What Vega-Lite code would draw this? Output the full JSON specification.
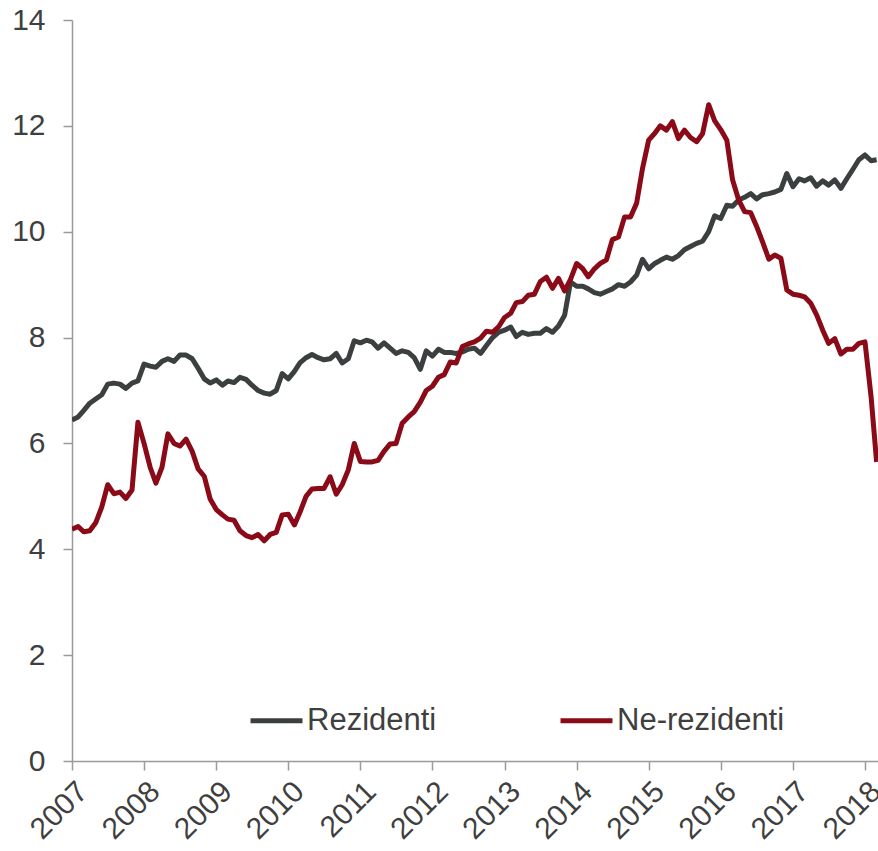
{
  "$schema": "https://vega.github.io/schema/vega-lite/v6.json",
  "autosize": {"type": "none"},
  "padding": {"left": 72, "top": 20, "right": 0, "bottom": 90},
  "width": 806,
  "height": 741,
  "background": "white",
  "config": {"view": {"stroke": null}, "font": "Liberation Sans"},
  "data": {"values": [
    {"d":"2007-01-01","Rezidenti":6.44,"Ne-rezidenti":4.38},
    {"d":"2007-02-01","Rezidenti":6.50,"Ne-rezidenti":4.43},
    {"d":"2007-03-01","Rezidenti":6.62,"Ne-rezidenti":4.33},
    {"d":"2007-04-01","Rezidenti":6.76,"Ne-rezidenti":4.35},
    {"d":"2007-05-01","Rezidenti":6.84,"Ne-rezidenti":4.50},
    {"d":"2007-06-01","Rezidenti":6.92,"Ne-rezidenti":4.80},
    {"d":"2007-07-01","Rezidenti":7.12,"Ne-rezidenti":5.22},
    {"d":"2007-08-01","Rezidenti":7.14,"Ne-rezidenti":5.05},
    {"d":"2007-09-01","Rezidenti":7.12,"Ne-rezidenti":5.08},
    {"d":"2007-10-01","Rezidenti":7.04,"Ne-rezidenti":4.96},
    {"d":"2007-11-01","Rezidenti":7.14,"Ne-rezidenti":5.12},
    {"d":"2007-12-01","Rezidenti":7.18,"Ne-rezidenti":6.40},
    {"d":"2008-01-01","Rezidenti":7.50,"Ne-rezidenti":6.00},
    {"d":"2008-02-01","Rezidenti":7.46,"Ne-rezidenti":5.55},
    {"d":"2008-03-01","Rezidenti":7.44,"Ne-rezidenti":5.25},
    {"d":"2008-04-01","Rezidenti":7.55,"Ne-rezidenti":5.55},
    {"d":"2008-05-01","Rezidenti":7.60,"Ne-rezidenti":6.18},
    {"d":"2008-06-01","Rezidenti":7.55,"Ne-rezidenti":6.00},
    {"d":"2008-07-01","Rezidenti":7.67,"Ne-rezidenti":5.95},
    {"d":"2008-08-01","Rezidenti":7.67,"Ne-rezidenti":6.08},
    {"d":"2008-09-01","Rezidenti":7.60,"Ne-rezidenti":5.85},
    {"d":"2008-10-01","Rezidenti":7.42,"Ne-rezidenti":5.52},
    {"d":"2008-11-01","Rezidenti":7.22,"Ne-rezidenti":5.38},
    {"d":"2008-12-01","Rezidenti":7.14,"Ne-rezidenti":4.95},
    {"d":"2009-01-01","Rezidenti":7.20,"Ne-rezidenti":4.75},
    {"d":"2009-02-01","Rezidenti":7.10,"Ne-rezidenti":4.65},
    {"d":"2009-03-01","Rezidenti":7.18,"Ne-rezidenti":4.57},
    {"d":"2009-04-01","Rezidenti":7.15,"Ne-rezidenti":4.55},
    {"d":"2009-05-01","Rezidenti":7.25,"Ne-rezidenti":4.35},
    {"d":"2009-06-01","Rezidenti":7.21,"Ne-rezidenti":4.26},
    {"d":"2009-07-01","Rezidenti":7.10,"Ne-rezidenti":4.22},
    {"d":"2009-08-01","Rezidenti":7.00,"Ne-rezidenti":4.28},
    {"d":"2009-09-01","Rezidenti":6.95,"Ne-rezidenti":4.16},
    {"d":"2009-10-01","Rezidenti":6.93,"Ne-rezidenti":4.28},
    {"d":"2009-11-01","Rezidenti":7.00,"Ne-rezidenti":4.32},
    {"d":"2009-12-01","Rezidenti":7.32,"Ne-rezidenti":4.65},
    {"d":"2010-01-01","Rezidenti":7.22,"Ne-rezidenti":4.66},
    {"d":"2010-02-01","Rezidenti":7.36,"Ne-rezidenti":4.46},
    {"d":"2010-03-01","Rezidenti":7.52,"Ne-rezidenti":4.70},
    {"d":"2010-04-01","Rezidenti":7.62,"Ne-rezidenti":5.00},
    {"d":"2010-05-01","Rezidenti":7.68,"Ne-rezidenti":5.14},
    {"d":"2010-06-01","Rezidenti":7.62,"Ne-rezidenti":5.15},
    {"d":"2010-07-01","Rezidenti":7.58,"Ne-rezidenti":5.15},
    {"d":"2010-08-01","Rezidenti":7.60,"Ne-rezidenti":5.37},
    {"d":"2010-09-01","Rezidenti":7.70,"Ne-rezidenti":5.04},
    {"d":"2010-10-01","Rezidenti":7.52,"Ne-rezidenti":5.22},
    {"d":"2010-11-01","Rezidenti":7.60,"Ne-rezidenti":5.50},
    {"d":"2010-12-01","Rezidenti":7.94,"Ne-rezidenti":6.00},
    {"d":"2011-01-01","Rezidenti":7.90,"Ne-rezidenti":5.66},
    {"d":"2011-02-01","Rezidenti":7.95,"Ne-rezidenti":5.65},
    {"d":"2011-03-01","Rezidenti":7.92,"Ne-rezidenti":5.65},
    {"d":"2011-04-01","Rezidenti":7.80,"Ne-rezidenti":5.68},
    {"d":"2011-05-01","Rezidenti":7.90,"Ne-rezidenti":5.85},
    {"d":"2011-06-01","Rezidenti":7.80,"Ne-rezidenti":5.99},
    {"d":"2011-07-01","Rezidenti":7.70,"Ne-rezidenti":6.00},
    {"d":"2011-08-01","Rezidenti":7.75,"Ne-rezidenti":6.38},
    {"d":"2011-09-01","Rezidenti":7.72,"Ne-rezidenti":6.50},
    {"d":"2011-10-01","Rezidenti":7.62,"Ne-rezidenti":6.60},
    {"d":"2011-11-01","Rezidenti":7.40,"Ne-rezidenti":6.78},
    {"d":"2011-12-01","Rezidenti":7.75,"Ne-rezidenti":7.00},
    {"d":"2012-01-01","Rezidenti":7.65,"Ne-rezidenti":7.08},
    {"d":"2012-02-01","Rezidenti":7.78,"Ne-rezidenti":7.25},
    {"d":"2012-03-01","Rezidenti":7.72,"Ne-rezidenti":7.30},
    {"d":"2012-04-01","Rezidenti":7.72,"Ne-rezidenti":7.54},
    {"d":"2012-05-01","Rezidenti":7.70,"Ne-rezidenti":7.52},
    {"d":"2012-06-01","Rezidenti":7.73,"Ne-rezidenti":7.83},
    {"d":"2012-07-01","Rezidenti":7.78,"Ne-rezidenti":7.88},
    {"d":"2012-08-01","Rezidenti":7.80,"Ne-rezidenti":7.92},
    {"d":"2012-09-01","Rezidenti":7.70,"Ne-rezidenti":7.99},
    {"d":"2012-10-01","Rezidenti":7.85,"Ne-rezidenti":8.12},
    {"d":"2012-11-01","Rezidenti":8.00,"Ne-rezidenti":8.10},
    {"d":"2012-12-01","Rezidenti":8.10,"Ne-rezidenti":8.20},
    {"d":"2013-01-01","Rezidenti":8.14,"Ne-rezidenti":8.38},
    {"d":"2013-02-01","Rezidenti":8.20,"Ne-rezidenti":8.46},
    {"d":"2013-03-01","Rezidenti":8.02,"Ne-rezidenti":8.66},
    {"d":"2013-04-01","Rezidenti":8.10,"Ne-rezidenti":8.68},
    {"d":"2013-05-01","Rezidenti":8.06,"Ne-rezidenti":8.80},
    {"d":"2013-06-01","Rezidenti":8.08,"Ne-rezidenti":8.82},
    {"d":"2013-07-01","Rezidenti":8.08,"Ne-rezidenti":9.06},
    {"d":"2013-08-01","Rezidenti":8.17,"Ne-rezidenti":9.14},
    {"d":"2013-09-01","Rezidenti":8.10,"Ne-rezidenti":8.93},
    {"d":"2013-10-01","Rezidenti":8.22,"Ne-rezidenti":9.12},
    {"d":"2013-11-01","Rezidenti":8.42,"Ne-rezidenti":8.88},
    {"d":"2013-12-01","Rezidenti":9.05,"Ne-rezidenti":9.10},
    {"d":"2014-01-01","Rezidenti":8.97,"Ne-rezidenti":9.40},
    {"d":"2014-02-01","Rezidenti":8.97,"Ne-rezidenti":9.30},
    {"d":"2014-03-01","Rezidenti":8.92,"Ne-rezidenti":9.15},
    {"d":"2014-04-01","Rezidenti":8.85,"Ne-rezidenti":9.30},
    {"d":"2014-05-01","Rezidenti":8.82,"Ne-rezidenti":9.40},
    {"d":"2014-06-01","Rezidenti":8.87,"Ne-rezidenti":9.47},
    {"d":"2014-07-01","Rezidenti":8.92,"Ne-rezidenti":9.85},
    {"d":"2014-08-01","Rezidenti":9.00,"Ne-rezidenti":9.90},
    {"d":"2014-09-01","Rezidenti":8.97,"Ne-rezidenti":10.28},
    {"d":"2014-10-01","Rezidenti":9.05,"Ne-rezidenti":10.28},
    {"d":"2014-11-01","Rezidenti":9.18,"Ne-rezidenti":10.54},
    {"d":"2014-12-01","Rezidenti":9.48,"Ne-rezidenti":11.20},
    {"d":"2015-01-01","Rezidenti":9.30,"Ne-rezidenti":11.73},
    {"d":"2015-02-01","Rezidenti":9.40,"Ne-rezidenti":11.86},
    {"d":"2015-03-01","Rezidenti":9.46,"Ne-rezidenti":12.00},
    {"d":"2015-04-01","Rezidenti":9.52,"Ne-rezidenti":11.92},
    {"d":"2015-05-01","Rezidenti":9.48,"Ne-rezidenti":12.08},
    {"d":"2015-06-01","Rezidenti":9.55,"Ne-rezidenti":11.76},
    {"d":"2015-07-01","Rezidenti":9.66,"Ne-rezidenti":11.92},
    {"d":"2015-08-01","Rezidenti":9.72,"Ne-rezidenti":11.78},
    {"d":"2015-09-01","Rezidenti":9.78,"Ne-rezidenti":11.70},
    {"d":"2015-10-01","Rezidenti":9.82,"Ne-rezidenti":11.85},
    {"d":"2015-11-01","Rezidenti":10.00,"Ne-rezidenti":12.40},
    {"d":"2015-12-01","Rezidenti":10.30,"Ne-rezidenti":12.10},
    {"d":"2016-01-01","Rezidenti":10.25,"Ne-rezidenti":11.93},
    {"d":"2016-02-01","Rezidenti":10.50,"Ne-rezidenti":11.73},
    {"d":"2016-03-01","Rezidenti":10.48,"Ne-rezidenti":10.98},
    {"d":"2016-04-01","Rezidenti":10.60,"Ne-rezidenti":10.60},
    {"d":"2016-05-01","Rezidenti":10.65,"Ne-rezidenti":10.38},
    {"d":"2016-06-01","Rezidenti":10.72,"Ne-rezidenti":10.36},
    {"d":"2016-07-01","Rezidenti":10.62,"Ne-rezidenti":10.10},
    {"d":"2016-08-01","Rezidenti":10.70,"Ne-rezidenti":9.80},
    {"d":"2016-09-01","Rezidenti":10.72,"Ne-rezidenti":9.48},
    {"d":"2016-10-01","Rezidenti":10.75,"Ne-rezidenti":9.56},
    {"d":"2016-11-01","Rezidenti":10.80,"Ne-rezidenti":9.50},
    {"d":"2016-12-01","Rezidenti":11.10,"Ne-rezidenti":8.90},
    {"d":"2017-01-01","Rezidenti":10.85,"Ne-rezidenti":8.82},
    {"d":"2017-02-01","Rezidenti":11.00,"Ne-rezidenti":8.80},
    {"d":"2017-03-01","Rezidenti":10.96,"Ne-rezidenti":8.77},
    {"d":"2017-04-01","Rezidenti":11.02,"Ne-rezidenti":8.65},
    {"d":"2017-05-01","Rezidenti":10.86,"Ne-rezidenti":8.43},
    {"d":"2017-06-01","Rezidenti":10.96,"Ne-rezidenti":8.14},
    {"d":"2017-07-01","Rezidenti":10.88,"Ne-rezidenti":7.89},
    {"d":"2017-08-01","Rezidenti":10.98,"Ne-rezidenti":7.98},
    {"d":"2017-09-01","Rezidenti":10.82,"Ne-rezidenti":7.69},
    {"d":"2017-10-01","Rezidenti":11.00,"Ne-rezidenti":7.78},
    {"d":"2017-11-01","Rezidenti":11.18,"Ne-rezidenti":7.78},
    {"d":"2017-12-01","Rezidenti":11.36,"Ne-rezidenti":7.89},
    {"d":"2018-01-01","Rezidenti":11.45,"Ne-rezidenti":7.92},
    {"d":"2018-02-01","Rezidenti":11.34,"Ne-rezidenti":6.88},
    {"d":"2018-03-01","Rezidenti":11.36,"Ne-rezidenti":5.65}
  ]},
  "transform": [{"fold": ["Rezidenti", "Ne-rezidenti"], "as": ["series", "value"]}],
  "mark": {"type": "line", "strokeWidth": 5, "strokeJoin": "round", "clip": true},
  "encoding": {
    "x": {
      "field": "d", "type": "temporal",
      "scale": {"type": "utc", "domain": ["2007-01-01", "2018-03-08"], "nice": false},
      "axis": {
        "title": null, "format": "%Y", "tickCount": {"interval": "year", "step": 1},
        "labelAngle": -45, "labelFontSize": 30, "labelColor": "#3f3f3f",
        "labelFlush": false, "labelOverlap": false, "labelBound": false,
        "grid": false, "domainColor": "#9a9a9a", "domainWidth": 1.5,
        "tickColor": "#9a9a9a", "tickWidth": 1.5, "tickSize": 9, "labelPadding": 6
      }
    },
    "y": {
      "field": "value", "type": "quantitative",
      "scale": {"domain": [0, 14], "nice": false, "zero": true},
      "axis": {
        "title": null, "values": [0, 2, 4, 6, 8, 10, 12, 14],
        "labelFontSize": 30, "labelColor": "#3f3f3f", "labelPadding": 18,
        "grid": false, "domainColor": "#9a9a9a", "domainWidth": 1.5,
        "tickColor": "#9a9a9a", "tickWidth": 1.5, "tickSize": 9
      }
    },
    "color": {
      "field": "series", "type": "nominal",
      "scale": {"domain": ["Rezidenti", "Ne-rezidenti"], "range": ["#3b3f3f", "#8a0a18"]},
      "legend": {
        "title": null, "orient": "none", "direction": "horizontal",
        "legendX": 176, "legendY": 672,
        "symbolType": "stroke", "symbolSize": 2700, "symbolStrokeWidth": 5,
        "labelFontSize": 31, "labelColor": "#3f3f3f", "labelOffset": 2, "labelLimit": 400,
        "columnPadding": 113, "padding": 0
      }
    }
  }
}
